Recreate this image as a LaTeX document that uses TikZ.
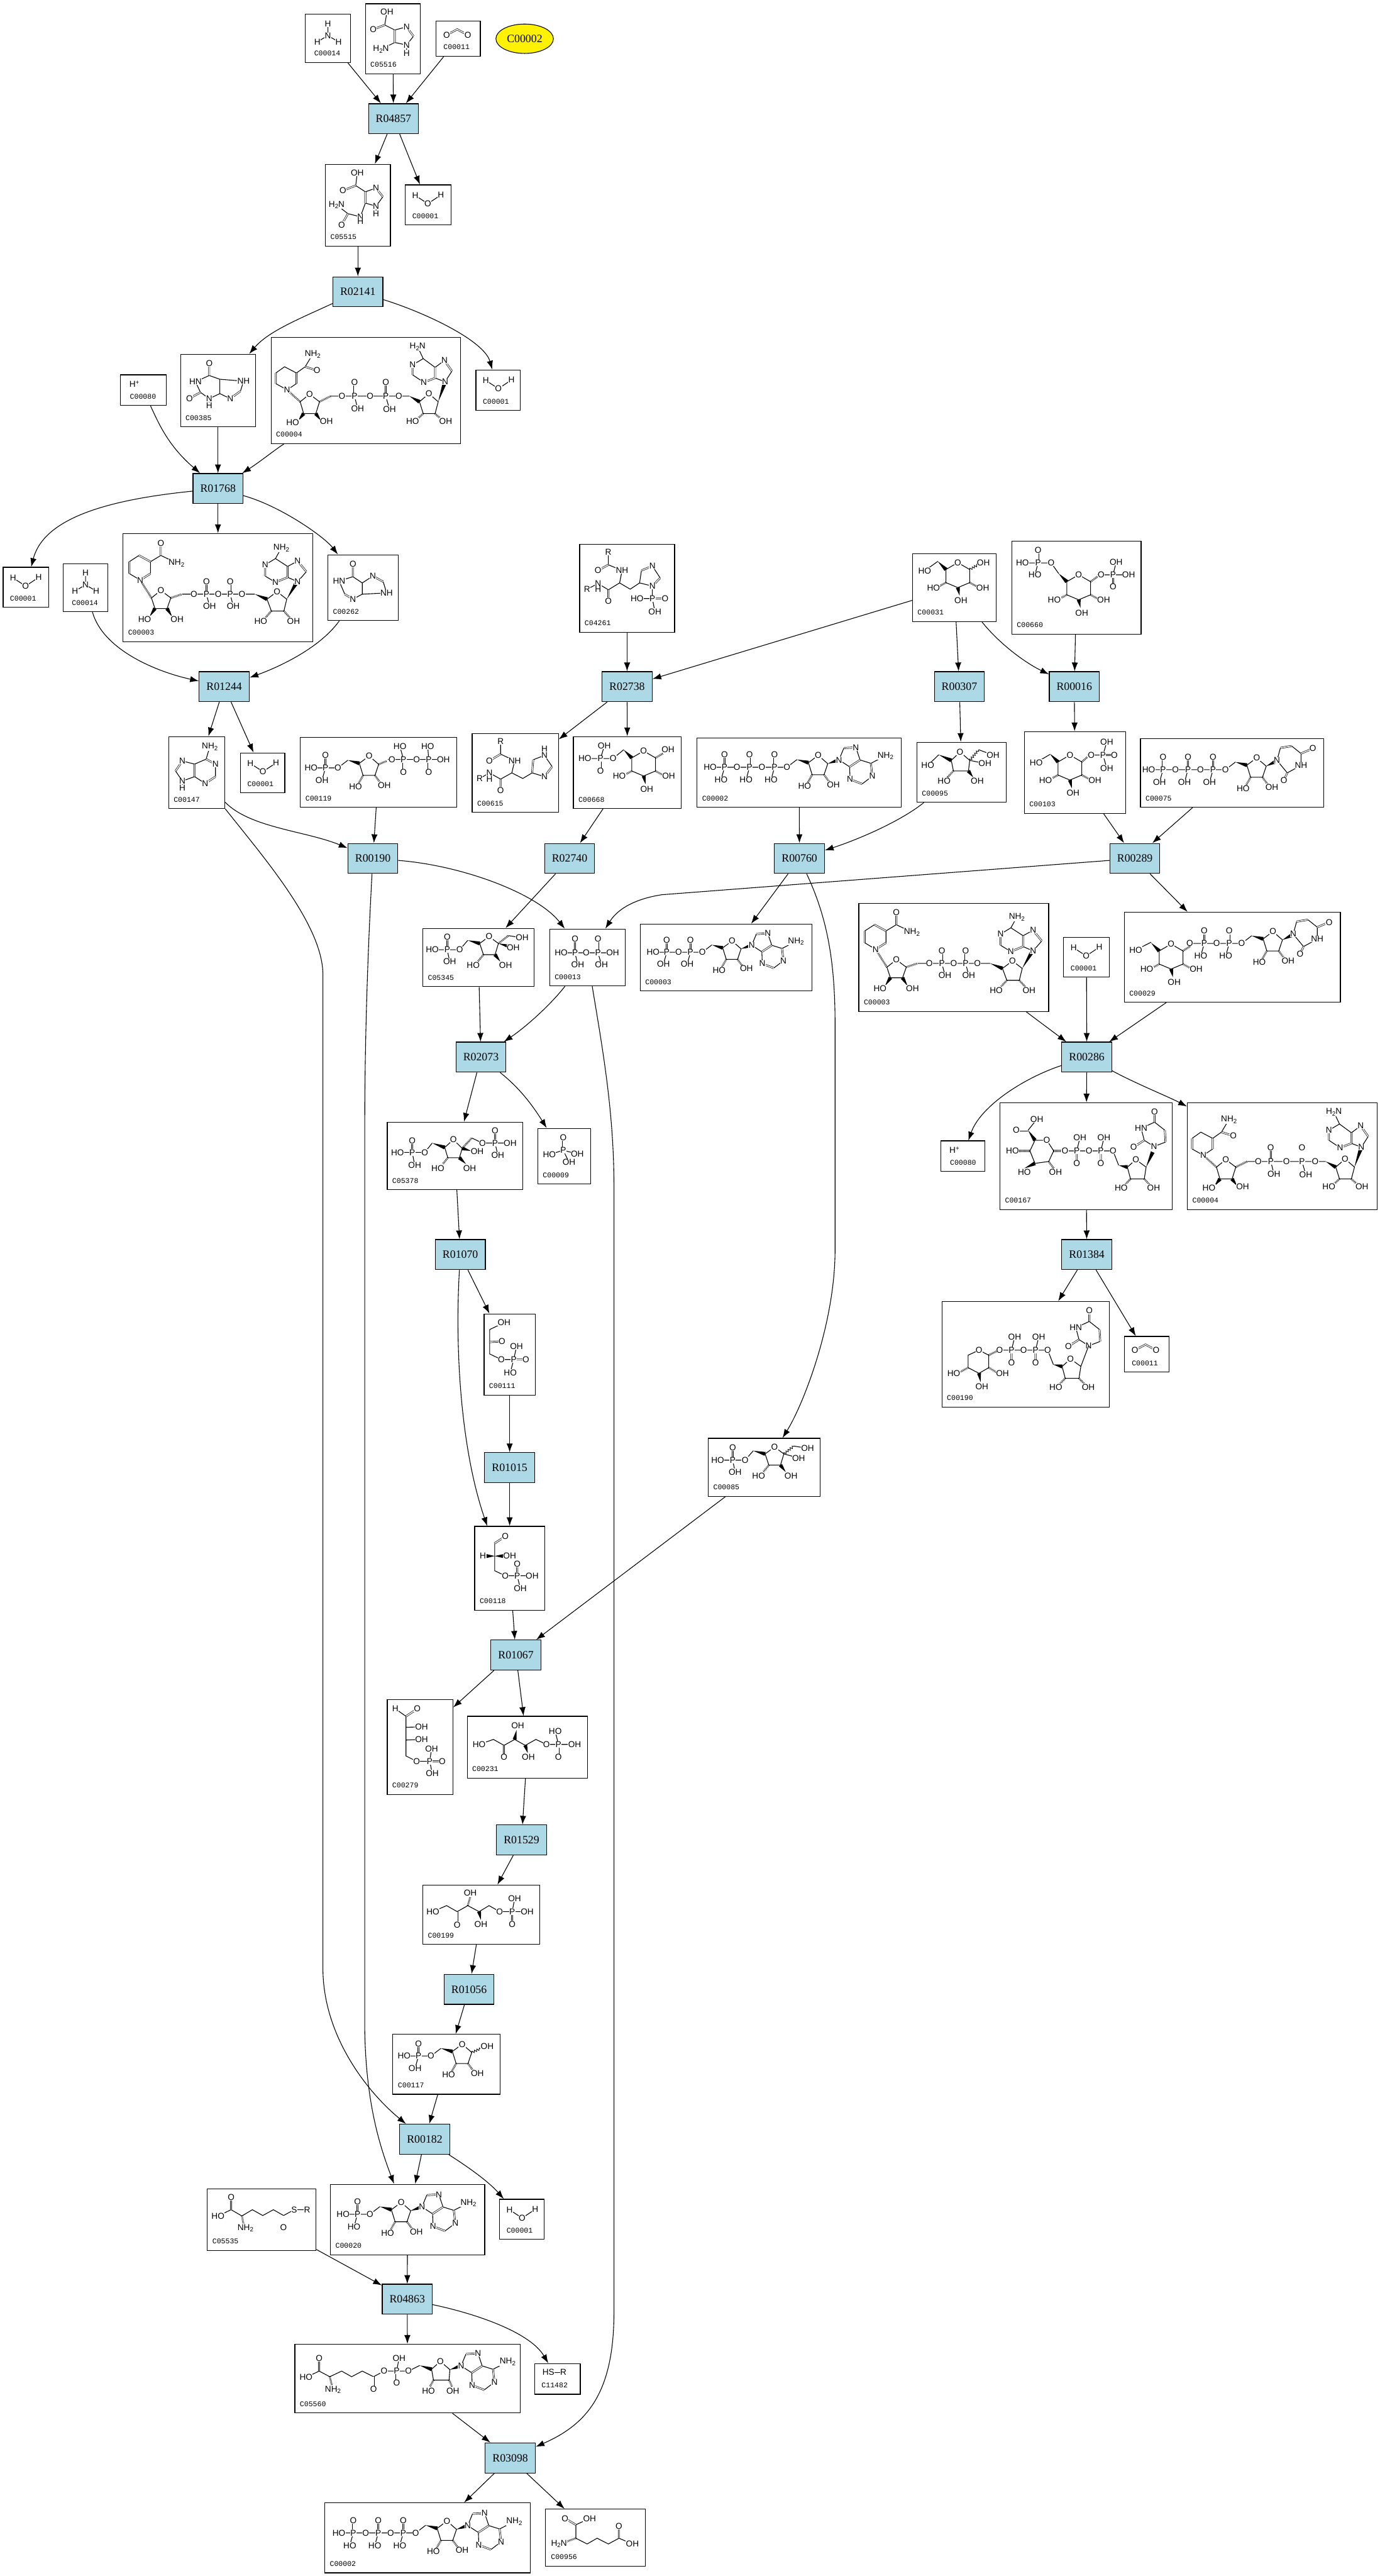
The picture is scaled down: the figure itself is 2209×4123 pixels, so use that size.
\documentclass[tikz,border=0pt]{standalone}
\usepackage{fontspec}
\setmainfont{Liberation Serif}
\setsansfont{Liberation Sans}
\setmonofont{Liberation Mono}
\usepackage{tikz}
\usetikzlibrary{arrows.meta,positioning,fit,calc,shapes.geometric,decorations.pathmorphing}
\definecolor{rxblue}{HTML}{ADD8E6}

\newcounter{atomno}
\newcommand{\atoms}[1]{\foreach \ax/\ay/\atxt in {#1}{\stepcounter{atomno}\node[atom] (at\arabic{atomno}) at (\ax,\ay) {\atxt};}}
\newcommand{\bonds}[1]{\draw[bond] #1;}
\newcommand{\dbonds}[1]{\draw[dbond] #1;}
\newcommand{\bnd}[2]{\draw[bond] (#1) -- (#2);}
\newcommand{\wdg}[2]{\fill (#1) -- ($(#2)!.9pt!90:(#1)$) -- ($(#2)!.9pt!-90:(#1)$) -- cycle;}
\newcommand{\hsh}[2]{\draw[hbond] (#1) -- (#2);}
\newcommand{\wvy}[2]{\draw[wbond] (#1) -- (#2);}
\newcommand{\Sb}[1]{\raisebox{-.7pt}{\fontsize{2.8}{3}\selectfont #1}}
\newcommand{\Nh}{NH\Sb{2}}
\newcommand{\hN}{H\Sb{2}N}
\newcommand{\Hp}{H\raisebox{1.2pt}{\fontsize{2.8}{3}\selectfont +}}

% compound box with its code under the structure
\def\cpdstrip#1#2#3#4#5#6#7\relax{#1#2#3#4#5#6}
\newcommand{\cpd}[6][8]{%
  \node[cbox, fit={(#3,#4) (#5,#6)}] (#2) {};
  \node[ccode] (#2c) at ($(#2.south west)+(#1,-15)$) {\cpdstrip#2\relax};}

\newcommand{\water}{\bonds{(16,17)--(36,30)--(57,16)}\atoms{16/17/H,36/30/O,57/16/H}}
\newcommand{\ammonia}{\bonds{(36,15)--(36,34)--(19,44) (36,34)--(53,44)}\atoms{36/15/H,36/34/N,19/44/H,53/44/H}}
\newcommand{\cotwo}{\dbonds{(17,22)--(34,13)--(51,22)}\atoms{17/22/O,51/22/O}}
\newcommand{\proton}{\atoms{22/15/\Hp}}

\newcommand{\ribo}[2]{%
  \bonds{(15.3,13.3)--(9.3,31)--(-9.7,31)--(-15.7,11.7)--(0,0)--cycle}
  \wdg{-34,6.7}{-15.7,11.7}
  #1{-9.7,31}{-17,44}
  #2{9.3,31}{18,43}
  \atoms{0/0/O,-21.7/49/HO,24.3/46.7/OH}}
\newcommand{\adenine}{%
  \wdg{15.3,13.3}{31,8}
  \bonds{(33.3,7.3)--(41,-11.7) (60.3,-12.7)--(67,7.3)--(84.3,12.7)--(107.7,.7) (50.3,18.3)--(33.3,7.3) (86.7,33.3)--(70.3,45.7) (51,38.3)--(50.3,18.3)}
  \dbonds{(41,-11.7)--(60.3,-12.7) (67,7.3)--(50.3,18.3) (84.3,12.7)--(86.7,33.3) (70.3,45.7)--(51,38.3)}
  \atoms{33.3/7.3/N,60.3/-12.7/N,107.7/.7/\Nh,86.7/33.3/N,51/38.3/N}}
\newcommand{\uracil}{%
  \wdg{15.3,13.3}{30,6}
  \bonds{(32.5,4)--(38,-16) (56,-19)--(71,-7)--(71,12)--(49,24)--(32.5,4)}
  \dbonds{(38,-16)--(56,-19) (71,-7)--(90,-15) (49,24)--(43.5,36)}
  \atoms{32.5/4/N,71/12/NH,90/-15/O,43.5/36/O}}
\newcommand{\pchain}[3][HO]{%
  \bnd{-34,6.7}{-50,19}
  \foreach \pn in {1,...,#2}{%
    \pgfmathsetmacro{\px}{-30-40*\pn}
    \pgfmathsetmacro{\qx}{\px-5.5}
    \pgfmathsetmacro{\rx}{\px+20}
    \pgfmathsetmacro{\sx}{\px-23}
    \bonds{(\rx,19)--(\sx,19) (\px,19)--(\qx,39)}
    \dbonds{(\px,19)--(\px,-1)}
    \atoms{\rx/19/O,\px/19/P,\px/-1/O,\qx/39/#3}
    \ifnum\pn=#2 \atoms{\sx/19/#1}\fi}}
\newcommand{\pyr}{%
  \bonds{(0,0)--(19,11)--(19,32)--(0,40)--(-19,32)--(-19,11)--cycle}
  \wdg{-32,-2}{-19,11}
  \hsh{-19,32}{-30,38}
  \hsh{19,32}{30,38}
  \wdg{3,53}{0,40}
  \atoms{0/0/O,-39/40/HO,40/40/OH,5/61/OH}}
\newcommand{\fsix}[2]{%
  \bonds{(0,0)--(15,11)--(9.6,29)--(-9,29)--(-15,11)--cycle (-34,6)--(-47,21)--(-91,21) (-67,21)--(-63,40) (31,-1.5)--(53,2)}
  \dbonds{(-67,21)--(-67,1)}
  \wdg{-34,6}{-15,11}
  \hsh{-9,29}{-18,40}
  \wdg{18,40}{9.6,29}
  #1{15,11}{31,-1.5}
  #2{15,11}{33,16}
  \atoms{0/0/O,-47/21/O,-67/21/P,-67/1/O,-91/21/HO,-63/40/OH,-25.4/46/HO,26.5/46/OH,38.6/18/OH,53/2/OH}}
\newcommand{\udpv}{%
  \bonds{(16.5,12)--(13.5,31)--(-8.5,31)--(-13.5,12)--(0,0)--cycle}
  \hsh{-8.5,31}{-17,40}
  \hsh{13.5,31}{22,40}
  \wdg{-27.5,9}{-13.5,12}
  \bonds{(-27.5,9)--(-36.5,-14)--(-113.5,-14) (-56,-14)--(-51,-35) (-94.5,-14)--(-89.5,-35) (29,-21)--(47.5,-28) (46.5,-47)--(30,-60)--(8.5,-50)--(13.5,-31)--(29,-21)}
  \dbonds{(-56,-14)--(-56,6) (-94.5,-14)--(-94.5,6) (47.5,-28)--(46.5,-47) (30,-60)--(30,-77) (13.5,-31)--(-3.5,-20)}
  \atoms{0/0/O,-23.5/45/HO,28.5/45/OH,29/-21/N,30/-77/O,8.5/-50/HN,-3.5/-20/O,-36.5/-14/O,-56/-14/P,-51/-35/OH,-56/6/O,-75/-14/O,-94.5/-14/P,-89.5/-35/OH,-94.5/6/O,-113.5/-14/O}}
\newcommand{\nad}{%
  \bonds{(-15,12)--(-9.4,29)--(10,29)--(16,12)--(0,0)--cycle (-33,-16.6)--(-50.5,-27) (-50.5,-46)--(-35,-56) (-16.5,-46)--(-16.5,-27) (-16.5,-46)--(0,-56)--(25,-44)}
  \dbonds{(-50.5,-27)--(-50.5,-46) (-35,-56)--(-16.5,-46) (-16.5,-27)--(-33,-16.6) (0,-56)--(0,-76)}
  \hsh{-15,12}{-33,-16.6}
  \wdg{-18,42}{-9.4,29}
  \wdg{18,42}{10,29}
  \hsh{16,12}{34,6}
  \bonds{(34,6)--(150.6,6) (73,6)--(78,25) (111,6)--(116,25) (170,14)--(186,2)--(201.6,14)--(197,33)--(177,33)--(170,14)}
  \dbonds{(73,6)--(73,-14) (111,6)--(111,-14)}
  \wdg{150.6,6}{170,14}
  \hsh{177,33}{168,43}
  \hsh{197,33}{206,43}
  \wdg{201.6,14}{217,-12}
  \bonds{(219,-14)--(233,-30) (219,-47)--(203,-38.4)--(183.5,-51)--(193,-68) (203,-21)--(219,-14) (183.5,-13)--(167,-23) (167,-41)--(183.5,-51)}
  \dbonds{(233,-30)--(219,-47) (203,-38.4)--(203,-21) (203,-21)--(183.5,-13) (167,-23)--(167,-41)}
  \atoms{0/0/O,-26/46/HO,26/46/OH,-33/-16.6/N,0/-76/O,25/-44/\Nh,53/6/O,73/6/P,73/-14/O,78/25/OH,92/6/O,111/6/P,111/-14/O,116/25/OH,130/6/O,186/2/O,160/49/HO,212.5/49/OH,219/-14/N,219/-47/N,183.5/-13/N,167/-41/N,193/-68/\Nh}}
\newcommand{\nadh}{%
  \bonds{(-15,12)--(-9.4,31)--(10,31)--(16,12)--(0,0)--cycle (-36,-7)--(-54,-17) (-54,-34)--(-40,-44)--(-21,-34)--(-21,-17)--(-36,-7) (-21,-34)--(-7,-44)--(5,-64)}
  \dbonds{(-54,-17)--(-54,-34) (-21,-34)--(-21,-17) (-7,-44)--(12,-38)}
  \hsh{-15,12}{-36,-7}
  \wdg{-18,42}{-9.4,31}
  \wdg{18,42}{10,31}
  \hsh{16,12}{34,3}
  \bonds{(34,3)--(160,3) (72,3)--(77,23) (122,3)--(128,24) (176,12)--(191,-1)--(206,12)--(201,31)--(182,31)--(176,12)}
  \dbonds{(72,3)--(72,-19) (122,3)--(122,-19)}
  \wdg{160,3}{176,12}
  \hsh{182,31}{172,40}
  \hsh{201,31}{211,40}
  \wdg{206,12}{216,-17}
  \bonds{(217,-20)--(228,-37) (216,-54)--(201,-43)--(182,-57)--(173,-76) (201,-26)--(217,-20) (183,-19)--(165,-31) (165,-47)--(182,-57)}
  \dbonds{(228,-37)--(216,-54) (201,-43)--(201,-26) (201,-26)--(183,-19) (165,-31)--(165,-47)}
  \atoms{0/0/O,-27/45/HO,27/43/OH,-36/-7/N,12/-38/O,5/-64/\Nh,52/3/O,72/3/P,72/-19/O,77/23/OH,97/3/O,122/3/P,122/-19/O,128/24/OH,143/3/O,191/-1/O,165/43/HO,218/43/OH,217/-20/N,216/-54/N,183/-19/N,165/-47/N,173/-76/\hN}}

\begin{document}
\begin{tikzpicture}[
    x=0.01cm, y=-0.01cm,
    rxn/.style={draw, fill=rxblue, minimum width=0.8cm, minimum height=0.48cm, inner sep=0pt, line width=0.012cm, font=\fontsize{5.1}{6}\selectfont},
    cbox/.style={draw, inner sep=0pt, line width=0.012cm},
    ccode/.style={anchor=west, inner sep=0pt, font=\fontsize{3.3}{4}\selectfont\ttfamily},
    atom/.style={inner sep=.12pt, fill=white, font=\fontsize{3.9}{4}\selectfont\sffamily},
    bond/.style={line width=0.011cm},
    dbond/.style={double, double distance=.42pt, line width=.2pt},
    hbond/.style={line width=.9pt, dash pattern=on .22pt off .38pt},
    wbond/.style={line width=.25pt, decorate, decoration={snake, amplitude=.5pt, segment length=1.2pt}},
    rx/.style={-{Latex[length=0.14cm, width=0.1cm]}, line width=0.011cm}
]
\useasboundingbox (0,0) rectangle (2209,4123);

% reactions
\node[rxn] (R04857) at (630,190) {R04857};
\node[rxn] (R02141) at (573,467) {R02141};
\node[rxn] (R01768) at (349,782) {R01768};
\node[rxn] (R01244) at (359,1099) {R01244};
\node[rxn] (R02738) at (1004,1099) {R02738};
\node[rxn] (R00307) at (1536,1099) {R00307};
\node[rxn] (R00016) at (1720,1099) {R00016};
\node[rxn] (R00190) at (597,1374) {R00190};
\node[rxn] (R02740) at (912,1374) {R02740};
\node[rxn] (R00760) at (1280,1374) {R00760};
\node[rxn] (R00289) at (1817,1374) {R00289};
\node[rxn] (R02073) at (770,1692) {R02073};
\node[rxn] (R00286) at (1740,1692) {R00286};
\node[rxn] (R01070) at (737,2008) {R01070};
\node[rxn] (R01384) at (1740,2008) {R01384};
\node[rxn] (R01015) at (816,2349) {R01015};
\node[rxn] (R01067) at (826,2649) {R01067};
\node[rxn] (R01529) at (835,2945) {R01529};
\node[rxn] (R01056) at (751,3184) {R01056};
\node[rxn] (R00182) at (680,3424) {R00182};
\node[rxn] (R04863) at (652,3680) {R04863};
\node[rxn] (R03098) at (817,3934) {R03098};
\node[ellipse, draw, fill=yellow, minimum width=0.92cm, minimum height=0.47cm, inner sep=0pt, line width=0.011cm, font=\fontsize{5.1}{6}\selectfont] (legend) at (840,62) {C00002};

% compounds
\cpd[14]{C00014a}{489}{23}{561}{100}
\cpd{C05516}{585}{6}{673}{118}
\cpd[12]{C00011a}{698}{34}{769}{90}
\cpd{C05515}{521}{263}{625}{394}
\cpd[11]{C00001a}{649}{296}{722}{360}
\cpd{C00385}{289}{567}{409}{683}
\cpd{C00004a}{434}{540}{737}{710}
\cpd[11]{C00001b}{762}{592}{833}{657}
\cpd[15]{C00080a}{193}{600}{266}{649}
\cpd[11]{C00001c}{5}{908}{78}{972}
\cpd[14]{C00014b}{101}{902}{173}{979}
\cpd{C00003a}{197}{854}{501}{1027}
\cpd{C00262}{525}{888}{638}{993}
\cpd{C04261}{928}{871}{1080}{1012}
\cpd{C00031}{1461}{886}{1595}{995}
\cpd{C00660}{1620}{866}{1827}{1015}
\cpd{C00147}{270}{1179}{360}{1294}
\cpd[11]{C00001d}{385}{1205}{456}{1269}
\cpd{C00119}{481}{1180}{731}{1292}
\cpd{C00615}{756}{1174}{894}{1300}
\cpd{C00668}{918}{1179}{1091}{1294}
\cpd{C00002a}{1116}{1181}{1443}{1292}
\cpd{C00095}{1468}{1188}{1611}{1284}
\cpd{C00103}{1640}{1171}{1802}{1302}
\cpd{C00075}{1826}{1182}{2119}{1292}
\cpd{C05345}{677}{1486}{855}{1579}
\cpd{C00013}{880}{1487}{1001}{1578}
\cpd{C00003b}{1025}{1479}{1300}{1586}
\cpd{C00003c}{1375}{1446}{1679}{1619}
\cpd[11]{C00001e}{1703}{1500}{1776}{1564}
\cpd{C00029}{1800}{1460}{2146}{1604}
\cpd{C05378}{620}{1796}{837}{1904}
\cpd{C00009}{861}{1806}{946}{1895}
\cpd[15]{C00080b}{1506}{1826}{1577}{1875}
\cpd{C00167}{1601}{1765}{1877}{1936}
\cpd{C00004b}{1901}{1765}{2205}{1936}
\cpd{C00190}{1508}{2083}{1776}{2252}
\cpd[12]{C00011b}{1800}{2139}{1872}{2196}
\cpd{C00111}{775}{2103}{857}{2233}
\cpd{C00118}{760}{2443}{872}{2577}
\cpd{C00085}{1134}{2302}{1313}{2395}
\cpd{C00279}{620}{2720}{725}{2872}
\cpd{C00231}{748}{2747}{941}{2846}
\cpd{C00199}{677}{3017}{864}{3112}
\cpd{C00117}{629}{3256}{801}{3352}
\cpd{C05535}{332}{3503}{506}{3602}
\cpd{C00020}{529}{3496}{776}{3609}
\cpd[11]{C00001f}{800}{3520}{871}{3584}
\cpd{C05560}{472}{3752}{833}{3862}
\cpd[11]{C11482}{856}{3783}{929}{3832}
\cpd{C00002b}{520}{4006}{849}{4118}
\cpd[9]{C00956}{873}{4016}{1033}{4107}

% small structures
\foreach \wx/\wy in {649/296,762/592,5/908,385/1205,1703/1500,800/3520}{\begin{scope}[shift={(\wx,\wy)}]\water\end{scope}}
\foreach \wx/\wy in {489/23,101/902}{\begin{scope}[shift={(\wx,\wy)}]\ammonia\end{scope}}
\foreach \wx/\wy in {698/34,1800/2139}{\begin{scope}[shift={(\wx,\wy)}]\cotwo\end{scope}}
\foreach \wx/\wy in {193/600,1506/1826}{\begin{scope}[shift={(\wx,\wy)}]\proton\end{scope}}
\bonds{(878,3797)--(902,3797)}
\atoms{878/3797/HS,902/3797/R}

% C05516
\bonds{(619.5,19)--(616,40)--(632,48)--(651,43) (662,58)--(651,72)--(632,68)--(610,79) (651,72)--(651,85)}
\dbonds{(616,40)--(597.6,47) (632,48)--(632,68) (651,43)--(662,58)}
\atoms{619.5/19/OH,597.6/47/O,651/43/N,651/72/N,651/85/H,610/79/\hN}
% C05515
\bonds{(572,277)--(569.5,297)--(585,307)--(602,301) (613,315)--(602,330)--(585,325)--(577,347)--(557,342)--(539,328) (602,330)--(602,342) (577,347)--(577,353)}
\dbonds{(569.5,297)--(549,305) (585,307)--(585,325) (602,301)--(613,315) (557,342)--(547,360)}
\atoms{572/277/OH,549/305/O,602/301/N,602/330/N,602/342/H,539/328/\hN,547/360/O,577/347/N,577/354/H}
% C00385
\bonds{(335,601)--(313,611)--(321,628)--(335,638)--(352,630)--(352,607)--(335,601) (352,607)--(390,610)--(385,626) (368.6,638)--(352,630) (335,638)--(335,649)}
\dbonds{(335,582)--(335,601) (321,628)--(303.5,637.5) (385,626)--(368.6,638)}
\atoms{335/582/O,313/611/HN,303.5/637.5/O,335/638/N,335/649/H,390/610/NH,368.6/638/N}
% C00262
\bonds{(565,923)--(543,930)--(552,951) (565,959)--(580,951)--(580,933)--(565,923) (580,933)--(597,922) (613.5,931)--(619,949)--(580,951)}
\dbonds{(565,903)--(565,923) (552,951)--(565,959) (597,922)--(613.5,931)}
\atoms{565/903/O,543/930/HN,565/959/N,597/922/N,619/949/NH}
% C00147
\bonds{(336,1195)--(330,1215) (345,1223)--(345,1243) (328.5,1254)--(311.6,1243)--(292,1250)--(281,1234) (292,1218)--(311.6,1223)--(330,1215) (292,1250)--(292,1261)}
\dbonds{(330,1215)--(345,1223) (345,1243)--(328.5,1254) (311.6,1243)--(311.6,1223) (281,1234)--(292,1218)}
\atoms{336/1195/\Nh,345/1223/N,328.5/1254/N,292/1218/N,292/1250/N,292/1261/H}
% C04261
\bonds{(974,884)--(974,904)--(996,913)--(992,933)--(974,944)--(957.5,934)--(940,943) (957.5,934)--(957.5,943) (992,933)--(1009,943)--(1024,933)--(1027,913) (1044.5,906)--(1057,925) (1044.5,938)--(1024,933) (1044.5,938)--(1044.5,958)--(1020,958) (1044.5,958)--(1048.5,979)}
\dbonds{(974,904)--(957.5,913) (974,944)--(974,962) (1027,913)--(1044.5,906) (1057,925)--(1044.5,938) (1044.5,958)--(1065,958)}
\atoms{974/884/R,957.5/913/O,996/913/NH,974/962/O,957.5/934/N,957.5/943/H,940/943/R,1044.5/906/N,1044.5/938/N,1044.5/958/P,1020/958/HO,1065/958/O,1048.5/979/OH}
% C00615
\bonds{(801.5,1187)--(801.5,1207)--(824,1217.6)--(819.5,1237)--(801.5,1247)--(783.6,1237)--(768,1246) (783.6,1237)--(783.6,1247) (819.5,1237)--(837,1246)--(852,1237)--(853.7,1216)--(871.7,1209)--(884,1227) (871.7,1243)--(852,1237) (871.7,1209)--(871.7,1199)}
\dbonds{(801.5,1207)--(783.6,1217.6) (801.5,1247)--(801.5,1265) (853.7,1216)--(852,1237) (884,1227)--(871.7,1243)}
\atoms{801.5/1187/R,783.6/1217.6/O,824/1217.6/NH,801.5/1265/O,783.6/1237/N,783.6/1247/H,768/1246/R,871.7/1209/N,871.7/1199/H,871.7/1243/N}
% C00013
\bonds{(898.4,1525)--(981,1525) (920.6,1525)--(925,1544) (957.4,1525)--(963,1544)}
\dbonds{(920.6,1525)--(920.6,1502.4) (957.4,1525)--(957.4,1502.4)}
\atoms{920.6/1502.4/O,920.6/1525/P,898.4/1525/HO,938.5/1525/O,957.4/1525/P,957.4/1502.4/O,981/1525/OH,925/1544/OH,963/1544/OH}
% C00009
\bonds{(879.6,1848)--(901.7,1841)--(924.4,1847) (901.7,1841)--(911,1860)}
\dbonds{(901.7,1841)--(901.7,1821)}
\atoms{901.7/1821/O,901.7/1841/P,879.6/1848/HO,924.4/1847/OH,911/1860/OH}
% C00199
\bonds{(693,3059.6)--(715,3050)--(732,3059.6)--(749,3050)--(767,3059.6)--(783,3050)--(800,3059.6)--(844,3059.6) (820,3059.6)--(824,3039)}
\dbonds{(732,3059.6)--(732,3080.5) (820,3059.6)--(820,3079.5)}
\hsh{749,3050}{753,3036}
\wdg{770,3073}{767,3059.6}
\atoms{693/3059.6/HO,732/3080.5/O,753/3029.6/OH,770/3079.5/OH,800/3059.6/O,820/3059.6/P,824/3039/OH,844/3059.6/OH,820/3079.5/O}
% C00231
\bonds{(767,2792)--(790,2784)--(807,2793.5)--(824,2784)--(841,2793.5)--(858,2784)--(875,2792)--(920,2792) (894,2792)--(889,2771)}
\dbonds{(807,2793.5)--(807,2812.4) (894,2792)--(894,2812.4)}
\wdg{827,2769}{824,2784}
\wdg{845,2806}{841,2793.5}
\atoms{767/2792/HO,807/2812.4/O,829/2762/OH,846/2812.4/OH,875/2792/O,894/2792/P,889/2771/HO,920/2792/OH,894/2812.4/O}
% C00279
\bonds{(633,2735)--(650,2747)--(650,2810.5)--(667,2819)--(708,2819) (650,2764.5)--(675,2764) (650,2785)--(675,2784) (688,2819)--(691,2799) (688,2819)--(692,2838)}
\dbonds{(650,2747)--(668,2735) (688,2819)--(708,2819)}
\atoms{633/2735/H,668/2735/O,675/2764/OH,675/2784/OH,667/2819/O,688/2819/P,691/2799/OH,708/2819/O,692/2838/OH}
% C00111
\bonds{(807,2117)--(784,2128)--(784,2167)--(802.6,2176)--(842,2176) (822.5,2176)--(827,2155) (822.5,2176)--(817,2197)}
\dbonds{(784,2148)--(803.6,2147) (822.5,2176)--(842,2176)}
\atoms{807/2117/OH,803.6/2147/O,802.6/2176/O,822.5/2176/P,827/2155/OH,842/2176/O,817/2197/HO}
% C00118
\bonds{(792,2470)--(792,2514)--(809,2522)--(852,2522) (828,2522)--(833,2542)}
\dbonds{(792,2470)--(809,2459) (828,2522)--(828,2503)}
\wdg{792,2490.5}{779,2490.5}
\wdg{792,2490.5}{806,2490.5}
\atoms{809/2459/O,773/2490.5/H,816/2490.5/OH,809/2522/O,828/2522/P,828/2503/O,852/2522/OH,833/2542/OH}
% C05535
\bonds{(349,3546.7)--(370,3536.7)--(387.3,3546.7)--(404,3536.7)--(420.7,3546)--(437.7,3536.7)--(454,3546)--(471,3536.7)--(491.7,3536.7)}
\dbonds{(370,3536.7)--(370,3516.7) (454,3546)--(454,3565)}
\hsh{387.3,3546.7}{390,3560}
\atoms{370/3516.7/O,349/3546.7/HO,393/3566/\Nh,454/3565/O,471/3536.7/S,491.7/3536.7/R}
% C05560
\bonds{(490,3805)--(511,3795)--(528,3804)--(547,3795)--(563,3804)--(580,3795)--(598,3804)--(615,3795)--(654,3795)--(672,3786) (635,3795)--(639,3774)}
\dbonds{(511,3795)--(511,3774) (598,3804)--(598,3824) (635,3795)--(635,3814)}
\hsh{528,3804}{531,3817}
\atoms{511/3774/O,490/3805/HO,533/3825/\Nh,598/3824/O,615/3795/O,635/3795/P,639/3774/OH,635/3814/O,654/3795/O}
\begin{scope}[shift={(705,3779.4)}]
  \bonds{(15.3,13.3)--(14,30)--(-11,30)--(-14,12.6)--(0,0)--cycle}
  \wdg{-33,6.6}{-14,12.6}
  \hsh{-11,30}{-17,41}
  \hsh{14,30}{19,41}
  \atoms{0/0/O,-19/47.6/HO,20/47.6/OH}
  \adenine
\end{scope}

% nucleotides and sugars
\begin{scope}[shift={(642.3,3525)}]\ribo{\hsh}{\hsh}\adenine\pchain{1}{HO}\end{scope}
\begin{scope}[shift={(715.6,4035)}]\ribo{\hsh}{\hsh}\adenine\pchain{3}{HO}\end{scope}
\begin{scope}[shift={(1310,1209)}]\ribo{\hsh}{\hsh}\adenine\pchain{3}{HO}\end{scope}
\begin{scope}[shift={(1172,1506)},scale=.95]\ribo{\hsh}{\hsh}\adenine\pchain{2}{OH}\end{scope}
\begin{scope}[shift={(2012,1213)}]\ribo{\hsh}{\hsh}\uracil\pchain{3}{OH}\end{scope}
\begin{scope}[shift={(2038,1491)}]\ribo{\hsh}{\hsh}\uracil\pchain[O]{2}{HO}\end{scope}
\begin{scope}[shift={(740,3271.7)}]\ribo{\hsh}{\hsh}\pchain{1}{OH}\wvy{15.3,13.3}{32,6}\atoms{40/4/OH}\end{scope}
\begin{scope}[shift={(591,1210)}]\ribo{\hsh}{\hsh}\pchain{1}{OH}
  \hsh{15.3,13.3}{28,8}
  \bonds{(30,5.6)--(119,5.6) (55,5.6)--(49.4,-15) (95.4,5.6)--(93.8,-15)}
  \dbonds{(55,5.6)--(55,26) (95.4,5.6)--(95.4,26)}
  \atoms{36.5/5.6/O,55/5.6/P,49.4/-15/HO,55/26/O,76/5.6/O,95.4/5.6/P,93.8/-15/HO,95.4/26/O,119/5.6/OH}
\end{scope}
\begin{scope}[shift={(783,1499)}]\fsix{\hsh}{\wdg}\end{scope}
\begin{scope}[shift={(1240,2316)}]\fsix{\wvy}{\bnd}\end{scope}
% C05378
\bonds{(636.5,1844.5)--(680,1844.5)--(692,1829.5) (660,1844.5)--(664,1865) (712,1836.5)--(726,1824)--(740,1838)--(735.6,1853)--(717,1853)--(712,1836.5) (755.4,1821.4)--(772.4,1829.5)--(816.8,1829.5) (792.7,1829.5)--(797,1849)}
\dbonds{(660,1844.5)--(660,1826) (792.7,1829.5)--(792.7,1809.6)}
\wdg{692,1829.5}{712,1836.5}
\hsh{717,1853}{709,1863}
\wdg{746,1863}{735.6,1853}
\hsh{740,1838}{755.4,1821.4}
\wdg{754,1842}{740,1838}
\atoms{636.5/1844.5/HO,660/1844.5/P,660/1826/O,664/1865/OH,680/1844.5/O,726/1824/O,701/1870.5/HO,752/1870.5/OH,764/1842.7/OH,772.4/1829.5/O,792.7/1829.5/P,792.7/1809.6/O,816.8/1829.5/OH,797/1849/OH}
% C00095
\bonds{(1537,1203.6)--(1552.6,1217)--(1550.5,1234)--(1526.5,1234)--(1523,1217)--cycle (1503,1208)--(1485.4,1225) (1552.6,1217)--(1577,1222)}
\wvy{1552.6,1217}{1567,1200}
\bonds{(1567,1200)--(1590,1208.5)}
\wdg{1503,1208}{1523,1217}
\hsh{1526.5,1234}{1517,1244}
\wdg{1558,1244}{1550.5,1234}
\atoms{1537/1203.6/O,1485.4/1225/HO,1590/1208.5/OH,1577/1222/OH,1511.6/1250/HO,1564.6/1250/OH}
% C00031
\begin{scope}[shift={(1533.5,900.5)}]\pyr\wvy{19,11}{33,3}\bnd{-32,-2}{-53,13}\atoms{41/0/OH,-53/13/HO}\end{scope}
% C00660
\begin{scope}[shift={(1727,920)}]\pyr
  \bonds{(-32,-2)--(-44,-19)--(-90,-19) (-65,-19)--(-70,0) (30,0)--(80,0) (55,0)--(60,-20)}
  \dbonds{(-65,-19)--(-65,-39) (55,0)--(55,19)}
  \hsh{19,11}{30,3}
  \atoms{-44/-19/O,-65/-19/P,-65/-39/O,-90/-19/HO,-70/0/HO,36/0/O,55/0/P,60/-20/OH,80/0/OH,55/19/O}
\end{scope}
% C00103
\begin{scope}[shift={(1713,1208.5)}]\pyr
  \bonds{(-32,-1)--(-54,12) (28,0)--(53,0) (53,0)--(59,-21) (53,0)--(59,21)}
  \dbonds{(53,0)--(71,0)}
  \hsh{19,11}{28,3}
  \atoms{-54/12/HO,34/0/O,53/0/P,59/-21/OH,71/0/O,59/21/OH}
\end{scope}
% C00668
\begin{scope}[shift={(1030.5,1202)}]\pyr
  \bonds{(-32,-2)--(-49,12)--(-94,12) (-69,12)--(-63,-8)}
  \dbonds{(-69,12)--(-69,32)}
  \hsh{19,11}{31,4}
  \atoms{-49/12/O,-69/12/P,-94/12/HO,-63/-8/OH,-69/32/O,39/-2/OH}
\end{scope}
% C00029
\begin{scope}[shift={(1875,1511)}]\pyr
  \bnd{-32,-3}{-56.5,9.5}
  \hsh{19,11}{31,3}
  \atoms{-56.5/9.5/HO}
\end{scope}
% C00167
\begin{scope}[shift={(1818.5,1856)}]\udpv\wdg{16.5,12}{27,-12}\end{scope}
\bonds{(1676,1825)--(1687,1842)--(1679,1859)--(1657,1862)--(1649,1842)--(1657,1825)--cycle (1646,1809)--(1660,1791.5)}
\dbonds{(1646,1809)--(1627,1809)}
\wdg{1646,1809}{1657,1825}
\hsh{1687,1842}{1698,1842}
\hsh{1649,1842}{1632,1842}
\wdg{1640,1870}{1657,1862}
\hsh{1679,1859}{1687,1870}
\atoms{1676/1825/O,1627/1809/O,1660/1791.5/OH,1621/1842/HO,1640/1876/HO,1690/1876/OH}
% C00190
\begin{scope}[shift={(1714,2175)}]\udpv\bnd{16.5,12}{29,-21}\end{scope}
\bonds{(1567.5,2161)--(1583,2169)--(1583,2189)--(1567.5,2198)--(1550,2189)--(1550,2169)--cycle}
\hsh{1583,2169}{1595,2163}
\hsh{1550,2189}{1537,2196}
\hsh{1583,2189}{1595,2196}
\wdg{1570,2212}{1567.5,2198}
\atoms{1567.5/2161/O,1527/2198/HO,1605/2198/OH,1572/2219/OH}
% C00956
\bonds{(944,4030.7)--(922,4041)--(922,4062.5)--(940,4071.7)--(956,4062.5)--(974,4071.7)--(991,4062.5)--(1012.5,4071.7)}
\dbonds{(922,4041)--(904.5,4030.7) (991,4062.5)--(991,4043)}
\hsh{922,4062.5}{907,4068}
\atoms{904.5/4030.7/O,944/4030.7/OH,895/4071.7/\hN,991/4043/O,1012.5/4071.7/OH}
% NAD and NADH
\begin{scope}[shift={(257.5,945)}]\nad\end{scope}
\begin{scope}[shift={(1435,1536)}]\nad\end{scope}
\begin{scope}[shift={(495.6,631)}]\nadh\end{scope}
\begin{scope}[shift={(1962.6,1856)}]\nadh\end{scope}

% connectors
\draw[rx] (C00014a) -- (R04857);
\draw[rx] (C05516) -- (R04857);
\draw[rx] (C00011a) -- (R04857);
\draw[rx] (R04857) -- (C05515);
\draw[rx] (R04857) -- (C00001a);
\draw[rx] (C05515) -- (R02141);
\draw[rx] (R02141) .. controls (480,510) and (430,530) .. (C00385);
\draw[rx] (R02141) .. controls (680,500) and (775,545) .. (C00001b);
\draw[rx] (C00080a) .. controls (255,680) and (270,714) .. (R01768);
\draw[rx] (C00385) -- (R01768);
\draw[rx] (C00004a) .. controls (440,720) and (415,740) .. (R01768);
\draw[rx] (R01768) .. controls (170,800) and (70,830) .. (C00001c);
\draw[rx] (R01768) -- (C00003a);
\draw[rx] (R01768) .. controls (450,810) and (520,860) .. (C00262);
\draw[rx] (C00014b) .. controls (165,1040) and (250,1075) .. (R01244);
\draw[rx] (C00262) .. controls (510,1040) and (440,1070) .. (R01244);
\draw[rx] (R01244) -- (C00147);
\draw[rx] (R01244) -- (C00001d);
\draw[rx] (C00147) .. controls (400,1325) and (490,1330) .. (R00190);
\draw[rx] (C00147) .. controls (420,1370) and (517,1480) .. (517,1560) -- (517,3150) .. controls (517,3260) and (590,3350) .. (R00182);
\draw[rx] (C00119) -- (R00190);
\draw[rx] (R00190) .. controls (740,1385) and (860,1430) .. (C00013);
\draw[rx] (R00190) .. controls (590,1500) and (584,1650) .. (584,1800) -- (584,3250) .. controls (586,3370) and (610,3440) .. (C00020);
\draw[rx] (C04261) -- (R02738);
\draw[rx] (C00031) -- (R02738);
\draw[rx] (R02738) -- (C00615);
\draw[rx] (R02738) -- (C00668);
\draw[rx] (C00668) -- (R02740);
\draw[rx] (R02740) -- (C05345);
\draw[rx] (C05345) -- (R02073);
\draw[rx] (C00013) .. controls (880,1610) and (840,1645) .. (R02073);
\draw[rx] (C00013) .. controls (965,1680) and (983,1780) .. (983,1900) -- (983,3700) .. controls (983,3830) and (940,3880) .. (R03098);
\draw[rx] (C00031) -- (R00307);
\draw[rx] (C00031) .. controls (1600,1030) and (1640,1060) .. (R00016);
\draw[rx] (C00660) -- (R00016);
\draw[rx] (R00307) -- (C00095);
\draw[rx] (R00016) -- (C00103);
\draw[rx] (C00103) -- (R00289);
\draw[rx] (C00075) -- (R00289);
\draw[rx] (C00095) .. controls (1440,1316) and (1370,1345) .. (R00760);
\draw[rx] (C00002a) -- (R00760);
\draw[rx] (R00760) -- (C00003b);
\draw[rx] (R00760) .. controls (1325,1470) and (1337,1540) .. (1337,1640) -- (1337,2000) .. controls (1337,2120) and (1285,2250) .. (C00085);
\draw[rx] (R00289) -- (1060,1432) .. controls (1020,1438) and (990,1453) .. (C00013);
\draw[rx] (R00289) -- (C00029);
\draw[rx] (C00003c) -- (R00286);
\draw[rx] (C00001e) -- (R00286);
\draw[rx] (C00029) -- (R00286);
\draw[rx] (R00286) .. controls (1640,1725) and (1570,1770) .. (C00080b);
\draw[rx] (R00286) -- (C00167);
\draw[rx] (R00286) .. controls (1820,1735) and (1870,1755) .. (C00004b);
\draw[rx] (C00167) -- (R01384);
\draw[rx] (R01384) -- (C00190);
\draw[rx] (R01384) -- (C00011b);
\draw[rx] (R02073) -- (C05378);
\draw[rx] (R02073) .. controls (830,1740) and (850,1765) .. (C00009);
\draw[rx] (C05378) -- (R01070);
\draw[rx] (R01070) -- (C00111);
\draw[rx] (R01070) .. controls (728,2160) and (738,2320) .. (C00118.118);
\draw[rx] (C00111) -- (R01015);
\draw[rx] (R01015) -- (C00118);
\draw[rx] (C00118) -- (R01067);
\draw[rx] (C00085) -- (R01067);
\draw[rx] (R01067.215) -- (C00279.50);
\draw[rx] (R01067) -- (C00231);
\draw[rx] (C00231) -- (R01529);
\draw[rx] (R01529) -- (C00199);
\draw[rx] (C00199) -- (R01056);
\draw[rx] (R01056) -- (C00117);
\draw[rx] (C00117) -- (R00182);
\draw[rx] (R00182) -- (C00020);
\draw[rx] (R00182) .. controls (760,3475) and (785,3495) .. (C00001f);
\draw[rx] (C00020) -- (R04863);
\draw[rx] (C05535) -- (R04863);
\draw[rx] (R04863) -- (C05560);
\draw[rx] (R04863) .. controls (770,3705) and (850,3735) .. (C11482);
\draw[rx] (C05560) -- (R03098);
\draw[rx] (R03098) -- (C00002b);
\draw[rx] (R03098) -- (C00956);
\end{tikzpicture}
\end{document}
